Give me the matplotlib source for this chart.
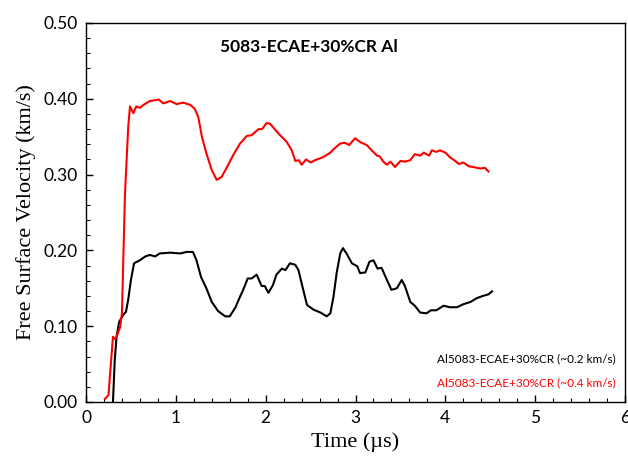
import matplotlib
matplotlib.use("Agg")
import matplotlib.pyplot as plt
from matplotlib.ticker import MultipleLocator

# Red series (~0.4 km/s)
red_t = [0.21, 0.25, 0.30, 0.32, 0.34, 0.38, 0.40, 0.434, 0.47, 0.49, 0.527, 0.56, 0.60, 0.64,
         0.71, 0.81, 0.86, 0.935, 1.01, 1.08, 1.16, 1.21, 1.25, 1.29, 1.34, 1.40, 1.455, 1.51,
         1.57, 1.64, 1.715, 1.79, 1.845, 1.92, 1.96, 2.01, 2.05, 2.10, 2.16, 2.235, 2.29, 2.33,
         2.37, 2.40, 2.45, 2.50, 2.55, 2.64, 2.72, 2.77, 2.83, 2.88, 2.93, 2.995, 3.05, 3.125,
         3.18, 3.24, 3.27, 3.31, 3.35, 3.39, 3.44, 3.50, 3.55, 3.61, 3.66, 3.72, 3.76, 3.82,
         3.85, 3.90, 3.94, 4.00, 4.05, 4.11, 4.15, 4.20, 4.26, 4.31, 4.39, 4.44, 4.48]
red_v = [0.004, 0.009, 0.086, 0.083, 0.086, 0.099, 0.117, 0.275, 0.363, 0.390, 0.381, 0.390, 0.388, 0.392,
         0.397, 0.399, 0.394, 0.397, 0.393, 0.395, 0.392, 0.387, 0.376, 0.350, 0.328, 0.306, 0.293, 0.297,
         0.310, 0.326, 0.341, 0.351, 0.352, 0.360, 0.360, 0.368, 0.367, 0.360, 0.352, 0.343, 0.332, 0.318,
         0.319, 0.313, 0.320, 0.316, 0.319, 0.323, 0.329, 0.335, 0.341, 0.342, 0.339, 0.348, 0.343, 0.339,
         0.332, 0.325, 0.324, 0.317, 0.313, 0.317, 0.310, 0.318, 0.317, 0.319, 0.327, 0.325, 0.329, 0.325,
         0.332, 0.330, 0.332, 0.329, 0.323, 0.318, 0.314, 0.316, 0.311, 0.310, 0.308, 0.309, 0.304]

# Black series (~0.2 km/s)
blk_t = [0.30, 0.32, 0.34, 0.37, 0.415, 0.445, 0.47, 0.50, 0.535, 0.60, 0.66, 0.71, 0.77, 0.82,
         0.935, 1.05, 1.12, 1.19, 1.23, 1.28, 1.34, 1.40, 1.47, 1.55, 1.60, 1.66, 1.715, 1.75,
         1.80, 1.845, 1.90, 1.955, 1.99, 2.03, 2.08, 2.12, 2.18, 2.22, 2.27, 2.33, 2.365, 2.41,
         2.46, 2.53, 2.61, 2.68, 2.72, 2.755, 2.79, 2.83, 2.86, 2.90, 2.96, 3.02, 3.05, 3.11,
         3.155, 3.20, 3.245, 3.29, 3.35, 3.40, 3.46, 3.515, 3.55, 3.61, 3.66, 3.72, 3.79, 3.84,
         3.90, 3.98, 4.05, 4.13, 4.20, 4.28, 4.35, 4.42, 4.48, 4.52]
blk_v = [0.000, 0.055, 0.086, 0.106, 0.115, 0.119, 0.135, 0.161, 0.183, 0.187, 0.192, 0.194, 0.192, 0.196,
         0.197, 0.196, 0.198, 0.198, 0.187, 0.165, 0.150, 0.132, 0.120, 0.113, 0.113, 0.124, 0.139, 0.148,
         0.163, 0.163, 0.168, 0.153, 0.153, 0.144, 0.154, 0.168, 0.176, 0.174, 0.183, 0.181, 0.174, 0.152,
         0.128, 0.122, 0.118, 0.113, 0.117, 0.139, 0.170, 0.196, 0.203, 0.196, 0.183, 0.179, 0.170, 0.171,
         0.185, 0.187, 0.176, 0.177, 0.161, 0.148, 0.150, 0.161, 0.153, 0.132, 0.127, 0.118, 0.117, 0.121,
         0.121, 0.127, 0.125, 0.125, 0.129, 0.132, 0.137, 0.140, 0.142, 0.146]

title = "5083-ECAE+30%CR Al"
label_black = "Al5083-ECAE+30%CR (~0.2 km/s)"
label_red = "Al5083-ECAE+30%CR (~0.4 km/s)"

fig = plt.figure(figsize=(6.28, 4.59), dpi=100)
ax = fig.add_axes([86/628, 57/459, 539/628, 379/459])

ax.plot(blk_t, blk_v, color="black", lw=1.5)
ax.plot(red_t, red_v, color="red", lw=1.5)

ax.set_xlim(0, 6)
ax.set_ylim(0, 0.5)
ax.xaxis.set_major_locator(MultipleLocator(1))
ax.xaxis.set_minor_locator(MultipleLocator(0.2))
ax.yaxis.set_major_locator(MultipleLocator(0.1))
ax.yaxis.set_minor_locator(MultipleLocator(0.02))
ax.yaxis.set_major_formatter(matplotlib.ticker.FormatStrFormatter('%.2f'))
ax.tick_params(which='both', direction='in', top=False, right=False)
ax.tick_params(which='major', length=5, width=1, labelsize=12.5, pad=6)
ax.tick_params(which='minor', length=3, width=0.8)
for lab in ax.get_xticklabels() + ax.get_yticklabels():
    lab.set_fontfamily('Lato')
for s in ax.spines.values():
    s.set_linewidth(1.0)

ax.set_xlabel("Time (\u00b5s)", fontfamily="Liberation Serif", fontsize=16, labelpad=4)
ax.set_ylabel("Free Surface Velocity (km/s)", fontfamily="Liberation Serif", fontsize=16, labelpad=5)

ax.text(0.414, 0.937, title, transform=ax.transAxes, ha='center', va='center',
        fontsize=12.5, fontweight='bold', fontfamily='Lato')
ax.text(0.983, 0.115, label_black, transform=ax.transAxes, ha='right', va='center',
        fontsize=8.5, color='black', fontfamily='Lato')
ax.text(0.983, 0.05, label_red, transform=ax.transAxes, ha='right', va='center',
        fontsize=8.5, color='red', fontfamily='Lato')

fig.savefig("out.png", dpi=100)
